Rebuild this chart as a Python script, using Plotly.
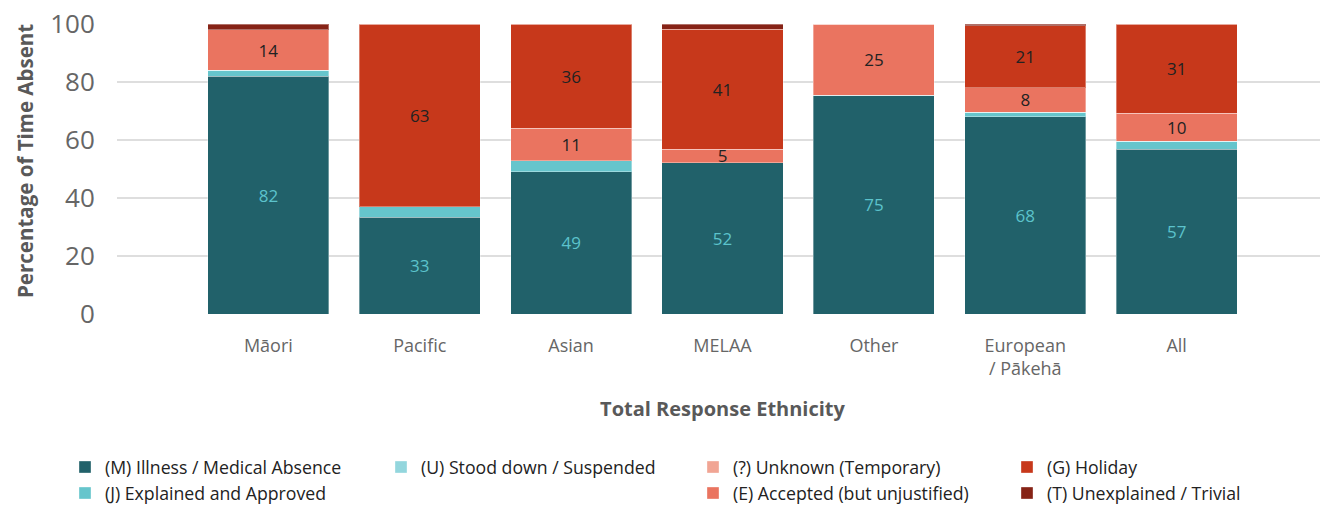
import plotly.graph_objects as go

categories = ["Māori", "Pacific", "Asian", "MELAA", "Other", "European<br>/ Pākehā", "All"]

series_names = [
    "(M) Illness / Medical Absence",
    "(J) Explained and Approved",
    "(U) Stood down / Suspended",
    "(?) Unknown (Temporary)",
    "(E) Accepted (but unjustified)",
    "(G) Holiday",
    "(T) Unexplained / Trivial",
]

illness = [82.0, 33.4, 49.1, 52.2, 75.4, 68.0, 56.8]
explained = [2.0, 3.6, 3.8, 0.0, 0.0, 1.6, 2.8]
stood_down = [0.0, 0.0, 0.0, 0.0, 0.0, 0.0, 0.0]
unknown = [0.0, 0.0, 0.0, 0.0, 0.0, 0.0, 0.0]
accepted = [14.0, 0.0, 11.2, 4.6, 24.6, 8.4, 9.7]
holiday = [0.0, 63.0, 35.9, 41.4, 0.0, 21.4, 30.6]
unexplained = [2.0, 0.0, 0.0, 1.8, 0.0, 0.6, 0.1]

y_title = "Percentage of Time Absent"
x_title = "Total Response Ethnicity"

series_values = [illness, explained, stood_down, unknown, accepted, holiday, unexplained]
colors = ["#21616A", "#66C5CC", "#93D6DD", "#F1A594", "#EA7460", "#C7381B", "#862316"]
label_colors = ["#5CC3CC", "#222222", "#222222", "#222222", "#222222", "#222222", "#222222"]
legend_ids = ["legend", "legend", "legend2", "legend3", "legend3", "legend4", "legend4"]

FONT = "Open Sans, Noto Sans, sans-serif"

fig = go.Figure()
for name, vals, col, lcol, lg in zip(series_names, series_values, colors, label_colors, legend_ids):
    texts = [f"{round(v):d}" if v >= 4.5 else "" for v in vals]
    fig.add_trace(go.Bar(
        x=list(range(len(categories))),
        y=vals,
        name=name,
        marker=dict(color=col, line=dict(color="rgba(255,255,255,0.35)", width=1)),
        width=0.8,
        text=texts,
        textposition="inside",
        insidetextanchor="middle",
        textangle=0,
        textfont=dict(color=lcol, size=17, family=FONT),
        legend=lg,
        hoverinfo="name+y",
    ))

# The page body adds an 8px offset, so the figure is 8px smaller than the window.
W, H = 1320, 497
ML, MR, MT, MB = 109, 0, 16, 191
plot_w = W - ML - MR
plot_h = H - MT - MB

legend_common = dict(
    orientation="v",
    traceorder="normal",
    xref="container",
    yref="container",
    yanchor="top",
    xanchor="left",
    font=dict(size=17.7, color="#222222", family=FONT),
    bgcolor="rgba(0,0,0,0)",
    itemclick=False,
    itemdoubleclick=False,
)

ytop = 1 - 441 / H
fig.update_layout(
    width=W,
    height=H,
    barmode="stack",
    paper_bgcolor="white",
    plot_bgcolor="white",
    margin=dict(l=ML, r=MR, t=MT, b=MB, autoexpand=False),
    font=dict(family=FONT, color="#666666"),
    uniformtext=dict(minsize=17, mode="show"),
    xaxis=dict(
        range=[-1, 7],
        tickmode="array",
        tickvals=list(range(len(categories))),
        ticktext=categories,
        tickfont=dict(size=18, color="#666666", family=FONT),
        ticks="outside",
        ticklen=15,
        tickcolor="rgba(0,0,0,0)",
        showgrid=False,
        zeroline=False,
        showline=False,
        automargin=False,
        title=dict(text=f"<b>{x_title}</b>",
                   font=dict(size=20, color="#595959", family=FONT),
                   standoff=22),
    ),
    yaxis=dict(
        range=[0, 100],
        tickvals=[0, 20, 40, 60, 80, 100],
        tickfont=dict(size=26, color="#666666", family=FONT),
        ticklabeloverflow="allow",
        ticks="outside",
        ticklen=16,
        tickcolor="rgba(0,0,0,0)",
        showgrid=True,
        gridcolor="#DEDEDE",
        gridwidth=2,
        zeroline=False,
        showline=False,
        automargin=False,
    ),
    annotations=[dict(
        text=f"<b>{y_title}</b>",
        textangle=-90,
        xref="paper", yref="paper",
        x=(17 - ML) / plot_w, y=0.5 + 8 / plot_h,
        xanchor="center", yanchor="middle",
        showarrow=False,
        font=dict(size=20.5, color="#595959", family=FONT),
    )],
    legend=dict(x=57 / W, y=ytop, **legend_common),
    legend2=dict(x=373 / W, y=ytop, **legend_common),
    legend3=dict(x=685 / W, y=ytop, **legend_common),
    legend4=dict(x=999 / W, y=ytop, **legend_common),
)

fig.write_html("out.html")
